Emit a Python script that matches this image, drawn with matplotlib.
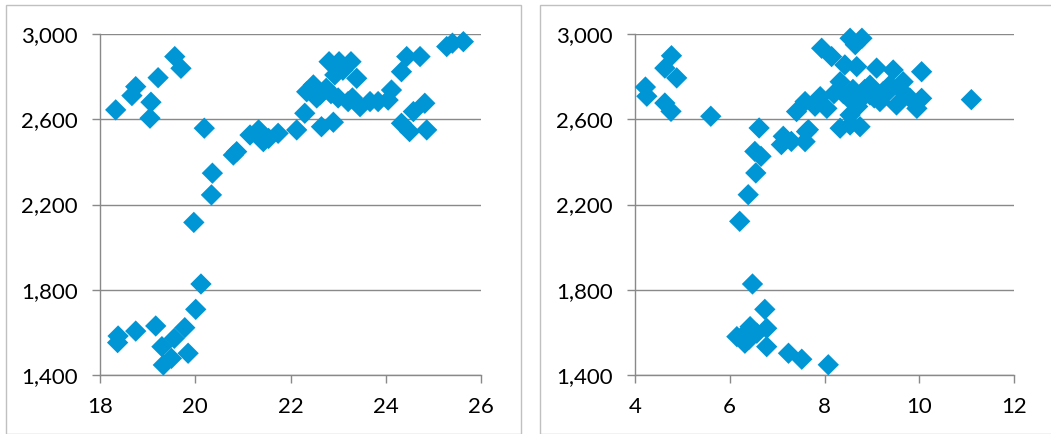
import matplotlib
matplotlib.use("Agg")
import matplotlib.pyplot as plt
from matplotlib.patches import Rectangle

# ---- data ----
left_x = [18.33, 18.67, 18.75, 19.07, 19.05, 19.22, 19.57, 19.70, 20.19,
          20.36, 20.34, 19.97, 20.80, 20.87, 21.15, 21.33, 21.43, 21.54, 21.74,
          22.13, 22.65, 22.90, 22.30, 22.34, 22.48, 22.62, 22.75, 22.81, 23.02,
          23.27, 22.93, 23.39, 23.21, 23.46, 23.67, 23.84, 24.12, 24.05, 24.33,
          24.44, 24.72, 24.33, 24.50, 24.58, 24.82, 24.86, 25.28, 25.40, 25.63,
          22.55, 22.85, 23.00, 23.10, 23.30,
          20.12, 20.01, 19.78, 19.17, 18.75, 18.38, 18.37, 19.56, 19.30, 19.50,
          19.85, 19.33]
left_y = [2644, 2711, 2753, 2680, 2605, 2795, 2894, 2839, 2558,
          2347, 2245, 2116, 2432, 2448, 2526, 2550, 2495, 2510, 2534,
          2550, 2565, 2586, 2628, 2729, 2761, 2714, 2745, 2870, 2870,
          2870, 2808, 2792, 2683, 2659, 2683, 2683, 2737, 2690, 2823,
          2894, 2894, 2581, 2542, 2636, 2675, 2550, 2941, 2957, 2964,
          2700, 2720, 2700, 2830, 2700,
          1827, 1708, 1622, 1630, 1606, 1583, 1552, 1572, 1533, 1478,
          1502, 1447]

right_x = [4.22, 4.25, 4.63, 4.77, 4.88, 4.63, 4.76, 5.60, 6.62, 6.53,
           6.66, 6.55, 6.39, 6.21, 6.48, 6.74, 6.43, 6.29, 6.32, 6.57,
           6.78, 6.78, 7.24, 7.52, 6.15, 6.40, 8.08,
           7.09, 7.13, 7.30, 7.66, 7.80, 11.10,
           7.94, 8.15, 8.54, 8.79, 8.65, 8.43, 8.68, 9.10, 9.45, 10.05,
           9.66, 8.33, 7.59, 7.91, 8.05, 8.20, 8.68, 8.96, 9.24, 9.52,
           9.95, 10.05, 8.54, 8.33, 8.75, 7.41, 7.62, 7.59, 8.54, 8.96,
           9.38, 9.17,
           8.60, 8.75, 8.85, 9.05, 9.30, 9.60, 8.50, 8.70, 9.80, 8.40]
right_y = [2751, 2708, 2840, 2898, 2794, 2676, 2637, 2614, 2559, 2449,
           2426, 2348, 2246, 2121, 1827, 1708, 1627, 1588, 1549, 1596,
           1619, 1533, 1502, 1474, 1580, 1566, 1448,
           2481, 2520, 2496, 2551, 2661, 2692,
           2933, 2894, 2980, 2980, 2950, 2855, 2847, 2840, 2831, 2823,
           2776, 2776, 2683, 2706, 2651, 2720, 2714, 2714, 2730, 2667,
           2651, 2698, 2573, 2558, 2565, 2636, 2542, 2495, 2620, 2760,
           2760, 2683,
           2740, 2690, 2740, 2700, 2720, 2740, 2700, 2660, 2700, 2720]

x_ticks_left = [18, 20, 22, 24, 26]
x_ticks_right = [4, 6, 8, 10, 12]
y_ticks = [1400, 1800, 2200, 2600, 3000]

COLOR = "#0096D6"
GRID = "#898989"

plt.rcParams['font.family'] = ['Lato', 'DejaVu Sans']

W, H = 1051, 434
fig = plt.figure(figsize=(W / 100, H / 100), dpi=100)

# chart-area borders
fig.patches.append(Rectangle((6 / W, 0), (521 - 6) / W, (H - 5) / H,
                             transform=fig.transFigure, fill=False,
                             edgecolor="#C0C0C0", linewidth=1.0))
fig.patches.append(Rectangle((540 / W, 0), (W + 5 - 540) / W, (H - 5) / H,
                             transform=fig.transFigure, fill=False,
                             edgecolor="#C0C0C0", linewidth=1.0))

ax_bottom = (H - 375) / H
ax_height = (375 - 34) / H
ax1 = fig.add_axes([100 / W, ax_bottom, 381 / W, ax_height])
ax2 = fig.add_axes([635 / W, ax_bottom, 379 / W, ax_height])


def style(ax, xs, ys, xticks):
    ax.scatter(xs, ys, marker="D", s=118, color=COLOR, edgecolors="none",
               zorder=3, clip_on=False)
    ax.set_xlim(xticks[0], xticks[-1])
    ax.set_ylim(y_ticks[0], y_ticks[-1])
    ax.set_xticks(xticks)
    ax.set_yticks(y_ticks)
    ax.set_yticklabels([f"{v:,}" for v in y_ticks])
    ax.yaxis.grid(True, color=GRID, linewidth=1.0, zorder=0)
    ax.set_axisbelow(True)
    for s in ("top", "right"):
        ax.spines[s].set_visible(False)
    for s in ("left", "bottom"):
        ax.spines[s].set_color(GRID)
        ax.spines[s].set_linewidth(1.0)
    ax.tick_params(axis="both", direction="out", length=6, width=1.0,
                   color=GRID, labelsize=16, labelcolor="#000000")
    ax.tick_params(axis="y", pad=10)
    ax.tick_params(axis="x", pad=10)


style(ax1, left_x, left_y, x_ticks_left)
style(ax2, right_x, right_y, x_ticks_right)

fig.savefig("out.png", dpi=100)
